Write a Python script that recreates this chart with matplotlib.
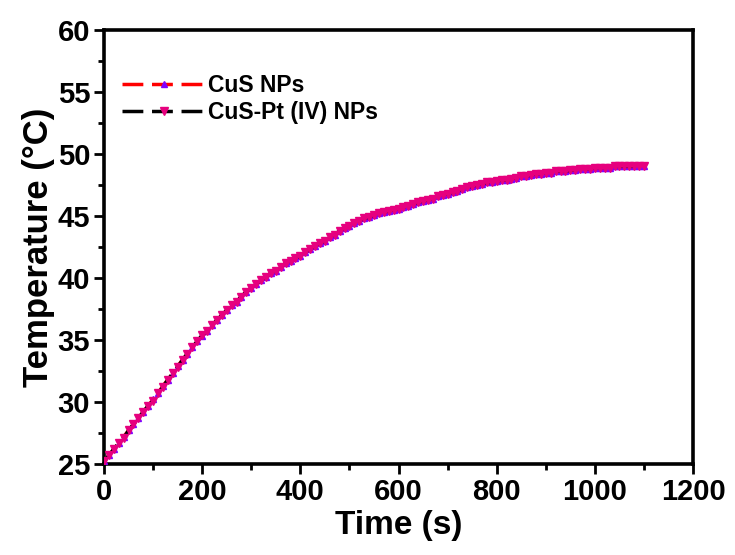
import matplotlib
matplotlib.use('Agg')
import matplotlib.pyplot as plt
import numpy as np
from matplotlib.ticker import MultipleLocator

plt.rcParams['font.family'] = ['Liberation Sans', 'DejaVu Sans']
plt.rcParams['font.weight'] = 'bold'

# time axis, one reading every 10 s
time_s = list(range(0, 1101, 10))

# CuS NPs heating curve
cus_temp = [25.2,
            25.7, 26.2, 26.7, 27.2, 27.7, 28.2, 28.7, 29.2, 29.7, 30.2,
            30.7, 31.3, 31.8, 32.3, 32.9, 33.4, 33.9, 34.4, 34.9, 35.3,
            35.7, 36.2, 36.6, 37.0, 37.4, 37.8, 38.1, 38.5, 38.9, 39.2,
            39.5, 39.8, 40.1, 40.4, 40.6, 40.9, 41.2, 41.4, 41.6, 41.8,
            42.1, 42.3, 42.6, 42.8, 43.0, 43.3, 43.5, 43.8, 44.0, 44.2,
            44.4, 44.6, 44.8, 44.9, 45.1, 45.2, 45.3, 45.4, 45.5, 45.6,
            45.7, 45.8, 46.0, 46.1, 46.2, 46.3, 46.4, 46.6, 46.7, 46.8,
            46.9, 47.0, 47.2, 47.3, 47.4, 47.5, 47.6, 47.7, 47.7, 47.8,
            47.9, 47.9, 48.0, 48.1, 48.2, 48.2, 48.3, 48.4, 48.4, 48.5,
            48.5, 48.6, 48.6, 48.6, 48.7, 48.7, 48.8, 48.8, 48.8, 48.9,
            48.9, 48.9, 48.9, 49.0, 49.0, 49.0, 49.0, 49.0, 49.0, 49.0]

# CuS-Pt (IV) NPs heating curve (almost on top of the other one)
cuspt_temp = [25.2,
              25.7, 26.2, 26.7, 27.1, 27.7, 28.2, 28.7, 29.2, 29.7, 30.1,
              30.7, 31.2, 31.8, 32.3, 32.8, 33.4, 33.9, 34.4, 34.9, 35.4,
              35.7, 36.2, 36.6, 37.0, 37.4, 37.8, 38.1, 38.5, 38.9, 39.2,
              39.5, 39.8, 40.1, 40.4, 40.6, 40.9, 41.2, 41.4, 41.6, 41.8,
              42.1, 42.3, 42.6, 42.8, 43.0, 43.3, 43.5, 43.8, 44.0, 44.2,
              44.4, 44.6, 44.8, 44.9, 45.1, 45.2, 45.3, 45.4, 45.5, 45.6,
              45.7, 45.8, 46.0, 46.1, 46.2, 46.3, 46.4, 46.6, 46.7, 46.8,
              46.9, 47.0, 47.2, 47.3, 47.4, 47.5, 47.6, 47.7, 47.7, 47.8,
              47.9, 47.9, 48.0, 48.1, 48.2, 48.2, 48.3, 48.4, 48.4, 48.5,
              48.5, 48.6, 48.6, 48.6, 48.7, 48.7, 48.8, 48.8, 48.8, 48.9,
              48.9, 48.9, 48.9, 49.0, 49.0, 49.0, 49.0, 49.0, 49.0, 49.0]

fig = plt.figure(figsize=(7.35, 5.55), dpi=100)
ax = fig.add_axes([0.1415, 0.164, 0.8015, 0.782])

ax.plot(time_s, cus_temp, color='red', ls='--', lw=2.5, dashes=(6, 2.5),
        marker='^', ms=4.5, mfc='#7F00FF', mec='#7F00FF', label='CuS NPs', zorder=3)
ax.plot(time_s, cuspt_temp, color='black', ls='--', lw=2.5, dashes=(6, 2.5),
        marker='v', ms=6, mfc='#E6007E', mec='#E6007E', label='CuS-Pt (IV) NPs', zorder=4)

ax.set_xlim(0, 1200)
ax.set_ylim(25, 60)
ax.xaxis.set_major_locator(MultipleLocator(200))
ax.xaxis.set_minor_locator(MultipleLocator(100))
ax.yaxis.set_major_locator(MultipleLocator(5))
ax.yaxis.set_minor_locator(MultipleLocator(2.5))

for s in ax.spines.values():
    s.set_linewidth(2.6)
ax.tick_params(which='major', length=7, width=2, labelsize=21, pad=3)
ax.tick_params(which='minor', length=4, width=2)
ax.tick_params(top=False, right=False, which='both')

ax.set_xlabel('Time (s)', fontsize=24, fontweight='bold', labelpad=3)
ax.set_ylabel('Temperature (°C)', fontsize=25, fontweight='bold', labelpad=2)

leg = ax.legend(loc='upper left', bbox_to_anchor=(0.0, 0.94), frameon=False,
                fontsize=16.5, handlelength=3.6, handletextpad=0.15,
                labelspacing=0.15, borderpad=0.3)
for t in leg.get_texts():
    t.set_fontweight('bold')

fig.savefig('out.png', dpi=100)
